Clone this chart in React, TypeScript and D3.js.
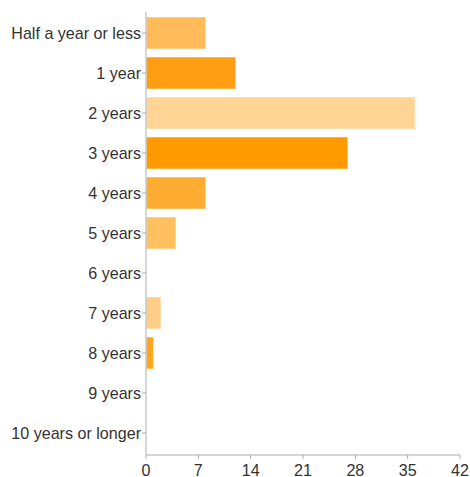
import React from "react";
import * as d3 from "d3";

const categories = [
  "Half a year or less",
  "1 year",
  "2 years",
  "3 years",
  "4 years",
  "5 years",
  "6 years",
  "7 years",
  "8 years",
  "9 years",
  "10 years or longer",
];
const values = [8, 12, 36, 27, 8, 4, 0, 2, 1, 0, 0];
const colors = [
  "#ffbb5a",
  "#ff9e12",
  "#ffd596",
  "#ff9a00",
  "#ffac33",
  "#ffc05f",
  "#ffc05f",
  "#ffcd87",
  "#ffa621",
  "#ffa621",
  "#ffa621",
];
const xTicks = [0, 7, 14, 21, 28, 35, 42];

const W = 470;
const H = 477;
const left = 146;
const right = 460;
const top = 13;
const bottom = 455;

export default function App() {
  const x = d3.scaleLinear().domain([0, 42]).range([left, right]);
  const y = d3
    .scaleBand<string>()
    .domain(categories)
    .range([top, 453])
    .paddingInner(0.2)
    .paddingOuter(0.1);
  const font = "'Liberation Sans', Arial, Helvetica, sans-serif";
  const fs = 16.1;
  return (
    <svg
      width={W}
      height={H}
      style={{ position: "absolute", left: 0, top: 0 }}
      fontFamily={font}
    >
      <rect width={W} height={H} fill="#fff" />
      {categories.map((c, i) =>
        values[i] > 0 ? (
          <rect
            key={c}
            x={x(0)}
            y={y(c)}
            width={x(values[i]) - x(0)}
            height={y.bandwidth()}
            fill={colors[i]}
            stroke="#fff"
            strokeOpacity={0.5}
            strokeWidth={1}
          />
        ) : null
      )}
      {/* y axis */}
      <line x1={left} x2={left} y1={12} y2={bottom} stroke="#c8c8c8" strokeWidth={1.5} />
      {categories.map((c) => {
        const cy = (y(c) as number) + y.bandwidth() / 2;
        return (
          <g key={c}>
            <line x1={left - 4} x2={left} y1={cy} y2={cy} stroke="#aaa" strokeWidth={1} />
            <text
              x={left - 5}
              y={cy + 0.5}
              dy="0.35em"
              textAnchor="end"
              fontSize={fs}
              fill="#333"
            >
              {c}
            </text>
          </g>
        );
      })}
      {/* x axis */}
      <line x1={left} x2={right} y1={bottom} y2={bottom} stroke="#c8c8c8" strokeWidth={1.5} />
      {xTicks.map((t) => (
        <g key={t}>
          <line x1={x(t)} x2={x(t)} y1={bottom} y2={bottom + 4} stroke="#aaa" strokeWidth={1} />
          <text x={x(t)} y={475.5} textAnchor="middle" fontSize={fs} fill="#333">
            {t}
          </text>
        </g>
      ))}
    </svg>
  );
}
